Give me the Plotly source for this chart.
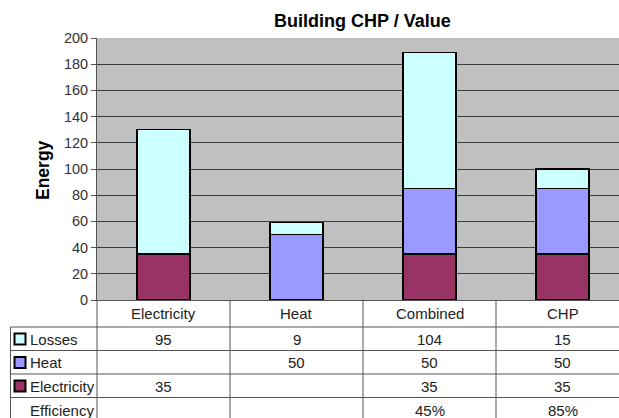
import plotly.graph_objects as go

categories = ["Electricity", "Heat", "Combined", "CHP"]
electricity = [35, None, 35, 35]
heat = [None, 50, 50, 50]
losses = [95, 9, 104, 15]
efficiency = ["", "", "45%", "85%"]
y_ticks = [0, 20, 40, 60, 80, 100, 120, 140, 160, 180, 200]

title_text = "Building CHP / Value"
y_title = "Energy"

COL_LOSS = "#CCFFFF"
COL_HEAT = "#9999FF"
COL_ELEC = "#993366"

W, H = 619, 418
PL, PR, PT, PB = 97, 619, 38, 300
FONT = "Liberation Sans, Arial, sans-serif"
TXT = "#222222"
LINE = "#555555"
TS = 15


def xp(px):
    return (px - PL) / (PR - PL)


def yp(py):
    return (PB - py) / (PB - PT)


fig = go.Figure()
for name, vals, col in [("Electricity", electricity, COL_ELEC),
                        ("Heat", heat, COL_HEAT),
                        ("Losses", losses, COL_LOSS)]:
    fig.add_trace(go.Bar(x=categories, y=[v if v is not None else 0 for v in vals],
                         name=name, marker=dict(color=col, line=dict(color="black", width=1.5))))

fig.update_layout(
    width=W, height=H, barmode="stack", bargap=0.6, showlegend=False,
    margin=dict(l=PL, r=W - PR, t=PT, b=H - PB, pad=0),
    paper_bgcolor="white", plot_bgcolor="#C0C0C0",
    font=dict(family=FONT, size=14, color=TXT),
)
fig.update_xaxes(type="category", range=[-0.5, -0.5 + (PR - PL) / 133.0],
                 showticklabels=False, showgrid=False, ticks="",
                 showline=True, linecolor=LINE, linewidth=1, zeroline=False)
fig.update_yaxes(range=[0, 200], tickvals=y_ticks, showgrid=True, gridcolor="#3c3c3c",
                 gridwidth=1, showline=True, linecolor=LINE, linewidth=1,
                 ticks="outside", ticklen=5, tickcolor=LINE,
                 tickfont=dict(family=FONT, size=14.5, color="#333333"), zeroline=False)

anns = []
anns.append(dict(text="<b>%s</b>" % title_text, x=xp(362), y=yp(21), xref="paper", yref="paper",
                 xanchor="center", yanchor="middle",
                 showarrow=False, font=dict(size=18, color="black", family=FONT)))
anns.append(dict(text="<b>%s</b>" % y_title, x=xp(43), y=yp(170), xref="paper", yref="paper",
                 xanchor="center", yanchor="middle",
                 textangle=-90, showarrow=False, font=dict(size=17.5, color="black", family=FONT)))

shapes = []
# table vertical lines
for b in [0.5, 1.5, 2.5]:
    shapes.append(dict(type="line", xref="x", yref="paper", x0=b, x1=b, y0=yp(PB), y1=yp(H + 5),
                       line=dict(color=LINE, width=1)))
shapes.append(dict(type="line", xref="paper", yref="paper", x0=0, x1=0, y0=yp(PB), y1=yp(H + 5),
                   line=dict(color=LINE, width=1)))
shapes.append(dict(type="line", xref="paper", yref="paper", x0=xp(10.5), x1=xp(10.5), y0=yp(327), y1=yp(H + 5),
                   line=dict(color=LINE, width=1)))
# table horizontal lines
for py in [327, 350.5, 374, 397.5]:
    shapes.append(dict(type="line", xref="paper", yref="paper", x0=xp(10.5), x1=1.0, y0=yp(py), y1=yp(py),
                       line=dict(color=LINE, width=1)))

# header row: category names
for c in categories:
    anns.append(dict(text=c, x=c, xref="x", y=yp(313.5), yref="paper", showarrow=False,
                     xanchor="center", yanchor="middle", font=dict(size=TS, color=TXT)))

rows = [("Losses", losses, COL_LOSS, 339), ("Heat", heat, COL_HEAT, 362.5),
        ("Electricity", electricity, COL_ELEC, 386), ("Efficiency", efficiency, None, 410)]
for label, vals, col, cy in rows:
    anns.append(dict(text=label, x=xp(27.5), y=yp(cy), xref="paper", yref="paper", xanchor="left",
                     yanchor="middle", showarrow=False, font=dict(size=TS, color=TXT)))
    if col is not None:
        shapes.append(dict(type="rect", xref="paper", yref="paper", x0=xp(14.5), x1=xp(25.5),
                           y0=yp(cy - 5.5), y1=yp(cy + 5.5), fillcolor=col,
                           line=dict(color="black", width=2)))
    for c, v in zip(categories, vals):
        if v is None or v == "":
            continue
        anns.append(dict(text=str(v), x=c, xref="x", y=yp(cy), yref="paper", showarrow=False,
                         xanchor="center", yanchor="middle", font=dict(size=TS, color=TXT)))

fig.update_layout(annotations=anns, shapes=shapes)
fig.write_html("out.html", config={"displayModeBar": False},
               post_script="document.body.style.margin='0px';document.body.style.overflow='hidden';")
